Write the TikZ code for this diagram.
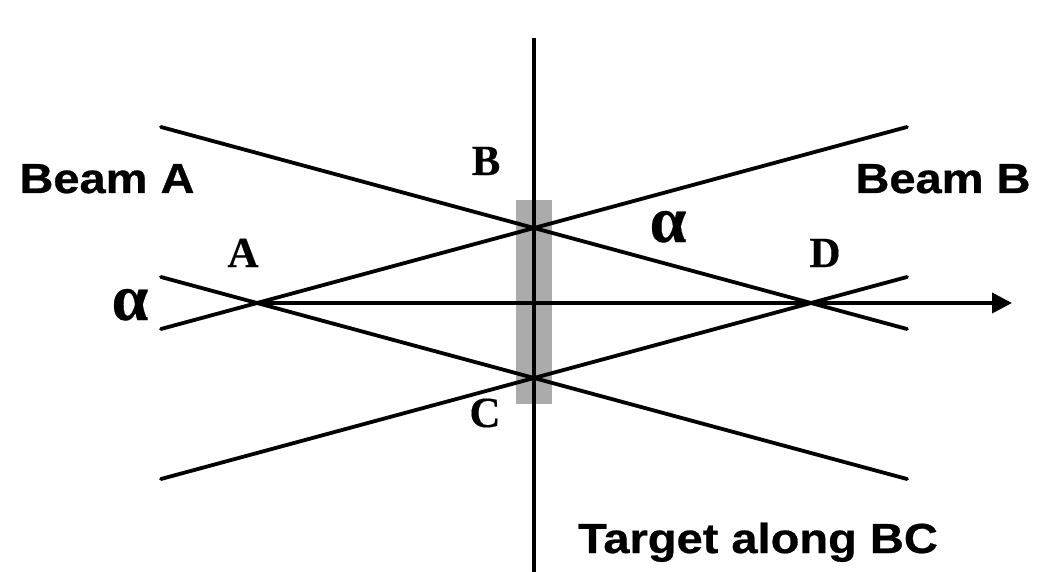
\documentclass[tikz,border=0pt]{standalone}
\usepackage{fontspec}
\usepackage{graphicx}
\usetikzlibrary{arrows.meta}
\newfontfamily\sansheavy[FakeBold=0.6]{Liberation Sans Bold}
\newfontfamily\serifheavy[FakeBold=0.3]{Liberation Serif Bold}
\tikzset{
  beam/.style={line width=3.8pt, black, line cap=round},
  axis/.style={line width=3.9pt, black},
  sanslabel/.style={anchor=base, inner sep=0pt, font=\sansheavy\fontsize{42}{48}\selectfont},
  letterlabel/.style={anchor=base, inner sep=0pt, font=\serifheavy\fontsize{43}{48}\selectfont},
  alphalabel/.style={anchor=base, inner sep=0pt, font=\serifheavy\fontsize{66}{72}\selectfont},
}
\begin{document}
\begin{tikzpicture}[x=1pt,y=-1pt]
\useasboundingbox (0,0) rectangle (1048,572);
% key points
\coordinate (A) at (257,303);
\coordinate (B) at (534,228);
\coordinate (C) at (534,378);
\coordinate (D) at (811,303);
\coordinate (L1s) at (161,127);
\coordinate (L1e) at (907,329);
\coordinate (L2s) at (161,329);
\coordinate (L2e) at (907,127);
\coordinate (L3s) at (161,277);
\coordinate (L3e) at (907,479);
\coordinate (L4s) at (161,479);
\coordinate (L4e) at (907,277);
\coordinate (Vt) at (534,38);
\coordinate (Vb) at (534,574);
\coordinate (Tip) at (1012,303);
% target
\fill[gray!66] (516,200) rectangle (552,404);
% vertical axis
\draw[axis] (Vt) -- (Vb);
% beam lines
\draw[beam] (L1s) -- (B) -- (D) -- (L1e);
\draw[beam] (L2s) -- (A) -- (B) -- (L2e);
\draw[beam] (L3s) -- (A) -- (C) -- (L3e);
\draw[beam] (L4s) -- (C) -- (D) -- (L4e);
% horizontal arrow
\draw[line width=3.8pt, -{Triangle[length=20pt,width=20pt]}] (A) -- (Tip);
% labels
\node[sanslabel] (beamA) at (107,193) {\scalebox{1.12}[1]{Beam A}};
\node[sanslabel] (beamB) at (943,193) {\scalebox{1.12}[1]{Beam B}};
\node[sanslabel] (target) at (758,553) {\scalebox{1.12}[1]{Target along BC}};
\node[letterlabel] (lB) at (486,175) {B};
\node[letterlabel] (lA) at (243,267) {A};
\node[letterlabel] (lC) at (485,427) {C};
\node[letterlabel] (lD) at (825,267) {D};
\node[alphalabel] (a1) at (130,320) {α};
\node[alphalabel] (a2) at (668,242) {α};
\end{tikzpicture}
\end{document}
